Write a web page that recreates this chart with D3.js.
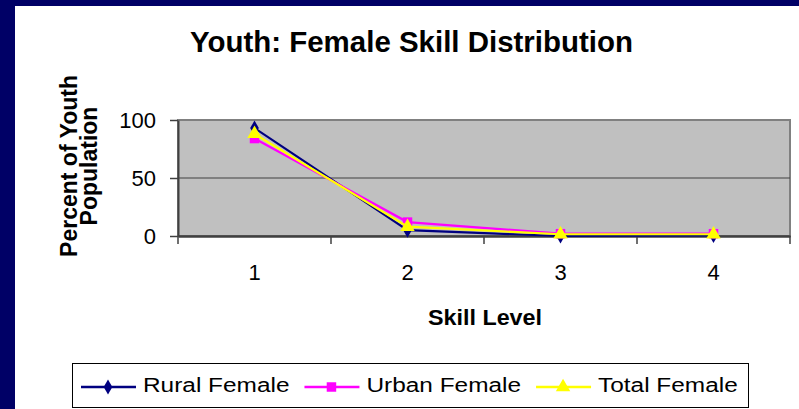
<!DOCTYPE html>
<html>
<head>
<meta charset="utf-8">
<script src="https://cdn.jsdelivr.net/npm/d3@7"></script>
<style>
  body { margin: 0; background: #fff; }
  svg { display: block; font-family: Arial, "Liberation Sans", sans-serif; }
</style>
</head>
<body>
<div id="chart"></div>
<script>
// chart data
var skillLevels = ["1", "2", "3", "4"];
var ruralFemale = [93, 5, 0, 0.5];
var urbanFemale = [84, 12, 2, 2];
var totalFemale = [88, 8, 1.5, 1.5];
var yTicks = [0, 50, 100];
var seriesNames = ["Rural Female", "Urban Female", "Total Female"];

var width = 799,
    height = 409,
    plot = {left: 178, right: 790, top: 120, bottom: 236},
    navy = "#000066";

var series = [
    {name: seriesNames[0], values: ruralFemale, color: "#000080", shape: d3.symbolDiamond, size: 65},
    {name: seriesNames[1], values: urbanFemale, color: "#FF00FF", shape: d3.symbolSquare, size: 90},
    {name: seriesNames[2], values: totalFemale, color: "#FFFF00", shape: d3.symbolTriangle, size: 90}
];

var svg = d3.select("#chart").append("svg")
    .attr("width", width)
    .attr("height", height);

// frame
svg.append("rect").attr("width", width).attr("height", height).attr("fill", "#fff");
svg.append("rect").attr("width", 15).attr("height", height).attr("fill", navy);
svg.append("rect").attr("width", width).attr("height", 6).attr("fill", navy);

var x = d3.scaleBand()
        .domain(skillLevels)
        .range([plot.left, plot.right]),
    y = d3.scaleLinear()
        .domain([0, 100])
        .range([plot.bottom, plot.top]);

// title
svg.append("text")
    .attr("x", 190)
    .attr("y", 52)
    .attr("textLength", 443)
    .attr("lengthAdjust", "spacingAndGlyphs")
    .style("font-size", "30px")
    .style("font-weight", "bold")
    .text("Youth: Female Skill Distribution");

// plot area
svg.append("rect")
    .attr("x", plot.left)
    .attr("y", plot.top)
    .attr("width", plot.right - plot.left)
    .attr("height", plot.bottom - plot.top)
    .attr("fill", "#C0C0C0")
    .attr("stroke", "#808080")
    .attr("stroke-width", 2);

// gridlines
svg.append("g").selectAll("line")
    .data(yTicks.filter(function(d) { return d > 0 && d < 100; }))
    .enter().append("line")
    .attr("x1", plot.left).attr("x2", plot.right)
    .attr("y1", function(d) { return y(d); })
    .attr("y2", function(d) { return y(d); })
    .attr("stroke", "#404040")
    .attr("stroke-width", 1.2);

// y axis
var yAxis = svg.append("g")
    .attr("transform", "translate(" + plot.left + ",0)")
    .call(d3.axisLeft(y).tickValues(yTicks).tickSize(8).tickPadding(14).tickSizeOuter(0));
yAxis.select(".domain").attr("stroke", "#404040").attr("stroke-width", 2);
yAxis.selectAll(".tick line").attr("stroke", "#404040").attr("stroke-width", 1.5);
yAxis.selectAll(".tick text")
    .style("font-size", "22px")
    .attr("fill", "#000");

// x axis
var xAxis = svg.append("g")
    .attr("transform", "translate(0," + plot.bottom + ")")
    .call(d3.axisBottom(x).tickSize(0).tickPadding(28).tickSizeOuter(0));
xAxis.select(".domain").attr("stroke", "#404040").attr("stroke-width", 2.5);
xAxis.selectAll(".tick text")
    .style("font-size", "22px")
    .attr("fill", "#000");
var bounds = skillLevels.map(function(d) { return x(d); }).concat([x(skillLevels[skillLevels.length - 1]) + x.step()]);
xAxis.selectAll(".bound")
    .data(bounds)
    .enter().append("line")
    .attr("class", "bound")
    .attr("x1", function(d) { return d; })
    .attr("x2", function(d) { return d; })
    .attr("y1", 0).attr("y2", 8)
    .attr("stroke", "#404040")
    .attr("stroke-width", 1.5);

// axis titles
svg.append("text")
    .attr("x", 485)
    .attr("y", 325)
    .attr("text-anchor", "middle")
    .attr("textLength", 114)
    .attr("lengthAdjust", "spacingAndGlyphs")
    .style("font-size", "22px")
    .style("font-weight", "bold")
    .text("Skill Level");

var yTitle = svg.append("text")
    .attr("transform", "translate(77,166) rotate(-90)")
    .attr("text-anchor", "middle")
    .style("font-size", "23px")
    .style("font-weight", "bold");
yTitle.append("tspan").attr("x", 0).attr("y", 0).text("Percent of Youth");
yTitle.append("tspan").attr("x", 0).attr("y", 20).text("Population");

// lines and markers
var line = d3.line()
    .x(function(d, i) { return x(skillLevels[i]) + x.bandwidth() / 2; })
    .y(function(d) { return y(d); });

series.forEach(function(s) {
    var g = svg.append("g").attr("class", "series");
    g.append("path")
        .datum(s.values)
        .attr("d", line)
        .attr("fill", "none")
        .attr("stroke", s.color)
        .attr("stroke-width", 2.2);
    g.selectAll(".marker")
        .data(s.values)
        .enter().append("path")
        .attr("class", "marker")
        .attr("d", d3.symbol().type(s.shape).size(s.size))
        .attr("transform", function(d, i) {
            return "translate(" + (x(skillLevels[i]) + x.bandwidth() / 2) + "," + y(d) + ")";
        })
        .attr("fill", s.color);
});

// legend
var legend = svg.append("g");
legend.append("rect")
    .attr("x", 72.5).attr("y", 363.5)
    .attr("width", 676).attr("height", 44)
    .attr("fill", "#fff")
    .attr("stroke", "#000")
    .attr("stroke-width", 1);
var lx = 81;
series.forEach(function(s) {
    legend.append("line")
        .attr("x1", lx).attr("x2", lx + 55)
        .attr("y1", 387).attr("y2", 387)
        .attr("stroke", s.color)
        .attr("stroke-width", 2.5);
    legend.append("path")
        .attr("d", d3.symbol().type(s.shape).size(s.size))
        .attr("transform", "translate(" + (lx + 27) + ",387)")
        .attr("fill", s.color);
    var t = legend.append("text")
        .attr("x", lx + 62)
        .attr("y", 392)
        .style("font-size", "20px")
        .text(s.name);
    var w = t.node().getComputedTextLength() * 1.22;
    t.attr("textLength", w).attr("lengthAdjust", "spacingAndGlyphs");
    lx += 62 + w + 15;
});
</script>
</body>
</html>
